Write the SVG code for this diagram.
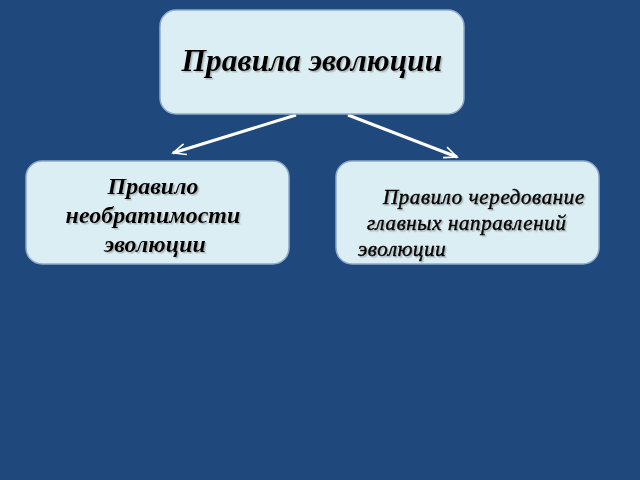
<svg xmlns="http://www.w3.org/2000/svg" width="640" height="480" viewBox="0 0 640 480">
<defs>
<style>
.box{fill:#dbeef4;stroke:#8eaacb;stroke-width:1.5}
.t{font-family:"Liberation Serif","Times New Roman",serif;font-style:italic;fill:#000}
.b{font-weight:bold}
.m{stroke:#000;stroke-width:0.55}
.con{stroke:#ffffff;stroke-width:3;fill:none}
</style>
<filter id="sh" x="-10%" y="-30%" width="130%" height="160%">
<feDropShadow dx="1.5" dy="1.5" stdDeviation="0.7" flood-color="#808080" flood-opacity="0.5"/>
</filter>
<marker id="ah2" viewBox="0 0 20 20" refX="18" refY="10" markerWidth="16" markerHeight="16" orient="auto" markerUnits="userSpaceOnUse">
<path d="M2,3 L18,10 L2,17" fill="none" stroke="#ffffff" stroke-width="2"/>
</marker>
</defs>
<rect width="640" height="480" fill="#1f487c"/>
<g id="connectors">
<line class="con" x1="296" y1="115" x2="173" y2="153" marker-end="url(#ah2)"/>
<line class="con" x1="348" y1="115" x2="457" y2="157" marker-end="url(#ah2)"/>
</g>
<g id="node-top">
<rect class="box" x="160" y="10" width="304" height="104" rx="16"/>
<text class="t b" x="312" y="71" font-size="31.5" text-anchor="middle" filter="url(#sh)">Правила эволюции</text>
</g>
<g id="node-left">
<rect class="box" x="26" y="161" width="263" height="103" rx="16"/>
<text class="t b" font-size="24" text-anchor="middle" filter="url(#sh)"><tspan x="153" y="194">Правило</tspan><tspan x="153" y="223">необратимости</tspan><tspan x="155" y="252">эволюции</tspan></text>
</g>
<g id="node-right">
<rect class="box" x="336" y="161" width="263" height="103" rx="16"/>
<text class="t m" font-size="21" letter-spacing="0.6" filter="url(#sh)"><tspan x="383" y="204">Правило чередование</tspan><tspan x="367" y="230">главных направлений</tspan><tspan x="358" y="256">эволюции</tspan></text>
</g>
</svg>
